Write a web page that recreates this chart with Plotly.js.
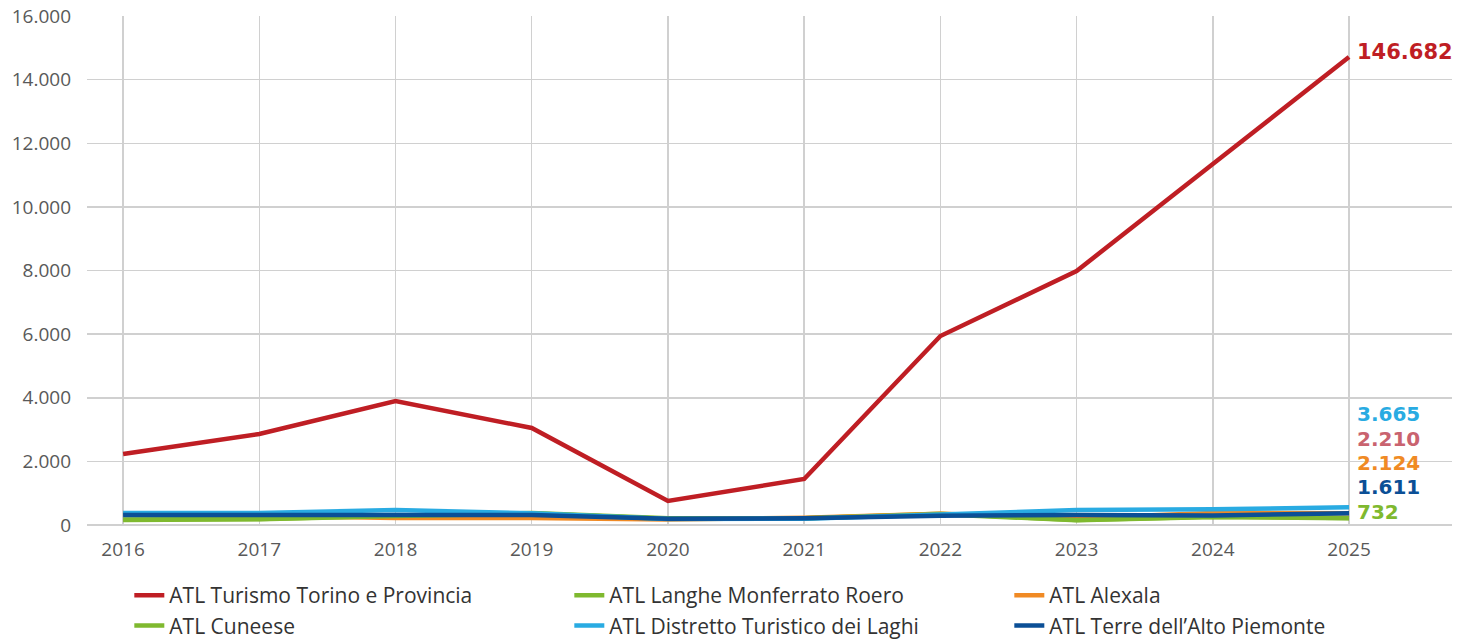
<!DOCTYPE html>
<html>
<head>
<meta charset="utf-8">
<script src="https://cdn.plot.ly/plotly-3.0.1.min.js"></script>
<style>
  html, body { margin: 0; padding: 0; background: #ffffff; }
  #chart { width: 1469px; height: 639px; }
</style>
</head>
<body>
<div id="chart"></div>
<script>
// ---- data ----
const years = [2016, 2017, 2018, 2019, 2020, 2021, 2022, 2023, 2024, 2025];

const seriesNames = [
  "ATL Turismo Torino e Provincia",
  "ATL Langhe Monferrato Roero",
  "ATL Alexala",
  "ATL Cuneese",
  "ATL Distretto Turistico dei Laghi",
  "ATL Terre dell\u2019Alto Piemonte"
];

const torino  = [2232, 2860, 3898, 3049, 754, 1446, 5941, 7984, 11347, 14711];
const langhe  = [170, 190, 290, 377, 210, 215, 350, 160, 260, 220];
const alexala = [360, 300, 220, 220, 170, 230, 350, 220, 380, 370];
const cuneese = [160, 180, 280, 360, 200, 210, 340, 150, 250, 215];
const laghi   = [377, 380, 470, 370, 190, 200, 330, 470, 493, 556];
const terre   = [314, 320, 320, 314, 198, 210, 289, 314, 300, 368];

const seriesColors = ["#BF1E24", "#7FB92F", "#F08A24", "#7FB92F", "#29ABE2", "#0B4F96"];

const yTickVals = [0, 2000, 4000, 6000, 8000, 10000, 12000, 14000, 16000];
const yTickText = ["0", "2.000", "4.000", "6.000", "8.000", "10.000", "12.000", "14.000", "16.000"];

const topLabel = "146.682";
const endLabels = ["3.665", "2.210", "2.124", "1.611", "732"];
const endLabelColors = ["#29ABE2", "#C9636F", "#F08A24", "#0B4F96", "#7FB92F"];

// ---- traces ----
const allValues = [torino, langhe, alexala, cuneese, laghi, terre];
const traces = allValues.map((vals, i) => ({
  type: "scatter",
  mode: "lines",
  x: years,
  y: vals,
  name: seriesNames[i],
  line: { color: seriesColors[i], width: 4.5 },
  hoverinfo: "x+y+name"
}));

// ---- annotations ----
const annotations = [{
  x: years[years.length - 1],
  y: torino[torino.length - 1],
  xref: "x", yref: "y",
  text: topLabel,
  showarrow: false,
  xanchor: "left", yanchor: "middle",
  xshift: 6, yshift: 5,
  font: { family: "DejaVu Sans", size: 21, color: "#BF1E24", weight: 700 }
}];
endLabels.forEach((t, i) => {
  annotations.push({
    x: years[years.length - 1],
    y: 0.218 - i * 0.0481,
    xref: "x", yref: "paper",
    text: t,
    showarrow: false,
    xanchor: "left", yanchor: "middle",
    xshift: 6,
    font: { family: "DejaVu Sans", size: 20, color: endLabelColors[i], weight: 700 }
  });
});

const layout = {
  width: 1469,
  height: 639,
  margin: { l: 87, r: 17, t: 16, b: 114, autoexpand: false },
  paper_bgcolor: "#ffffff",
  plot_bgcolor: "#ffffff",
  font: { family: "Open Sans", size: 19, color: "#595959" },
  showlegend: true,
  xaxis: {
    type: "linear",
    range: [2015.735, 2025.756],
    tickmode: "array",
    tickvals: years,
    ticktext: years.map(String),
    showgrid: true,
    gridcolor: "#D0D0D0",
    gridwidth: 1.5,
    zeroline: false,
    showline: false,
    ticks: "",
    ticklabelstandoff: 11,
    tickfont: { family: "Open Sans", size: 19, color: "#595959" }
  },
  yaxis: {
    range: [0, 16000],
    tickmode: "array",
    tickvals: yTickVals,
    ticktext: yTickText,
    showgrid: true,
    gridcolor: "#D0D0D0",
    gridwidth: 1.5,
    zeroline: true,
    zerolinecolor: "#D0D0D0",
    zerolinewidth: 2.5,
    showline: false,
    ticks: "",
    ticklabelstandoff: 15,
    tickfont: { family: "Open Sans", size: 19, color: "#595959" }
  },
  legend: {
    orientation: "h",
    x: 0.031,
    xanchor: "left",
    yref: "container",
    y: 0.1,
    yanchor: "top",
    entrywidth: 395,
    entrywidthmode: "pixels",
    font: { family: "Open Sans", size: 21, color: "#333333" },
    traceorder: "normal",
    bgcolor: "rgba(0,0,0,0)"
  },
  annotations: annotations
};

Plotly.newPlot("chart", traces, layout, { displayModeBar: false, staticPlot: true });
</script>
</body>
</html>
